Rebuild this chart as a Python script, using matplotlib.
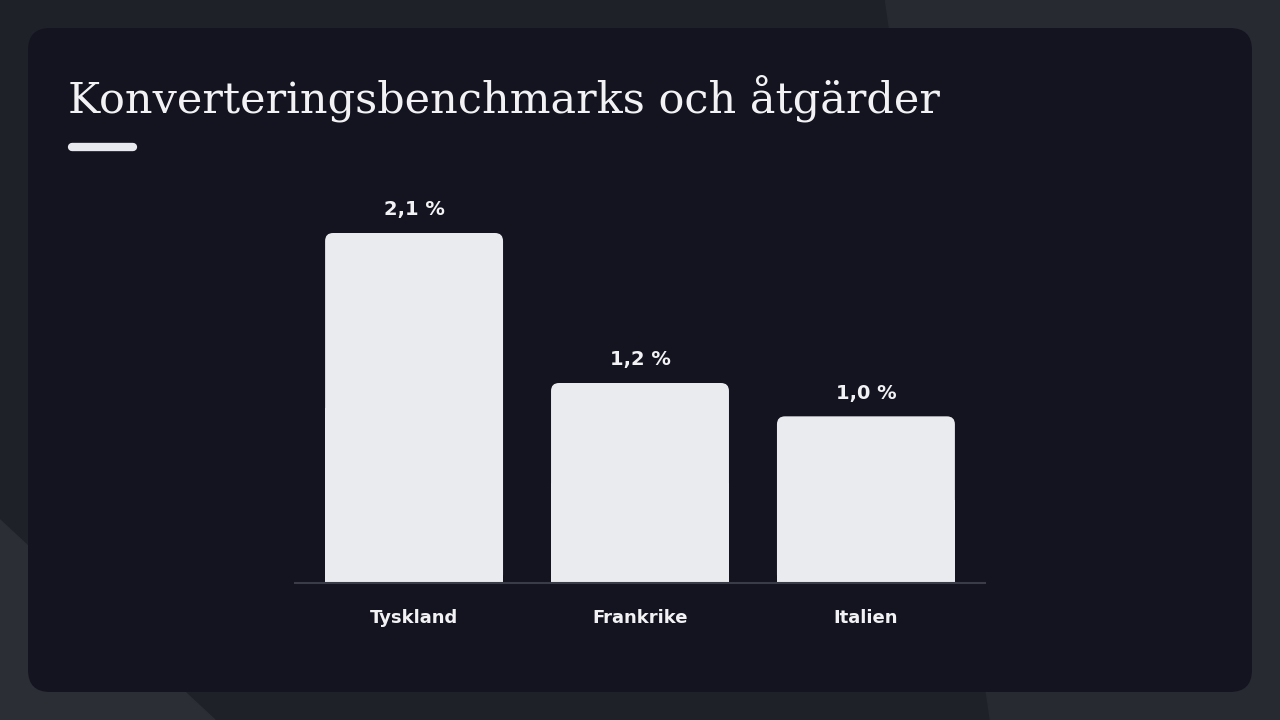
import matplotlib.pyplot as plt
from matplotlib.patches import FancyBboxPatch, Polygon

countries = ["Tyskland", "Frankrike", "Italien"]
rates = [2.1, 1.2, 1.0]
labels = ["2,1 %", "1,2 %", "1,0 %"]

W, H = 1280, 720
fig = plt.figure(figsize=(12.8, 7.2), dpi=100)
fig.patch.set_facecolor("#1f2129")

# background shapes (pixel coords)
bg = fig.add_axes([0, 0, 1, 1])
bg.set_xlim(0, W)
bg.set_ylim(H, 0)
bg.axis("off")
bg.add_patch(Polygon([[885, 0], [1280, 0], [1280, 720], [990, 720]], closed=True, color="#282a32"))
bg.add_patch(Polygon([[0, 520], [215, 720], [0, 720]], closed=True, color="#2c2e36"))
bg.add_patch(FancyBboxPatch((28, 28), 1224, 664, boxstyle="round,pad=0,rounding_size=22",
                            facecolor="#13141f", edgecolor="none"))
bg.text(68, 98, "Konverteringsbenchmarks och åtgärder", color="#f2f2f4", fontsize=31,
        family="DejaVu Serif", va="center", ha="left")
bg.plot([72, 133], [147, 147], color="#e8e9ee", linewidth=6, solid_capstyle="round")

# chart axes: x 295..985, y baseline 583, top 183
ax = fig.add_axes([295 / W, (H - 583) / H, 690 / W, 400 / H])
ax.set_facecolor("none")
ax.set_xlim(-0.527, 2.527)
ax.set_ylim(0, 2.4)
for s in ["top", "right", "left"]:
    ax.spines[s].set_visible(False)
ax.spines["bottom"].set_color("#3a3c47")
ax.spines["bottom"].set_linewidth(1.5)
ax.set_yticks([])
ax.set_xticks(range(len(countries)))
ax.set_xticklabels(countries, color="#f2f2f4", fontsize=13, fontweight="bold")
ax.tick_params(axis="x", length=0, pad=19)

bw = 178 / 226
rnd = 8 / 226
aspect = (2.4 / 400) / (1 / 226)
for i, (v, lab) in enumerate(zip(rates, labels)):
    ax.add_patch(FancyBboxPatch((i - bw / 2, 0), bw, v, boxstyle=f"round,pad=0,rounding_size={rnd}",
                                mutation_aspect=aspect, facecolor="#eaebee", edgecolor="none"))
    ax.bar(i, v / 2, width=bw, color="#eaebee")
    ax.text(i, v + 0.14, lab, ha="center", va="center", color="#f2f2f4", fontsize=14, fontweight="bold")

fig.savefig("out.png", dpi=100, facecolor=fig.get_facecolor())
